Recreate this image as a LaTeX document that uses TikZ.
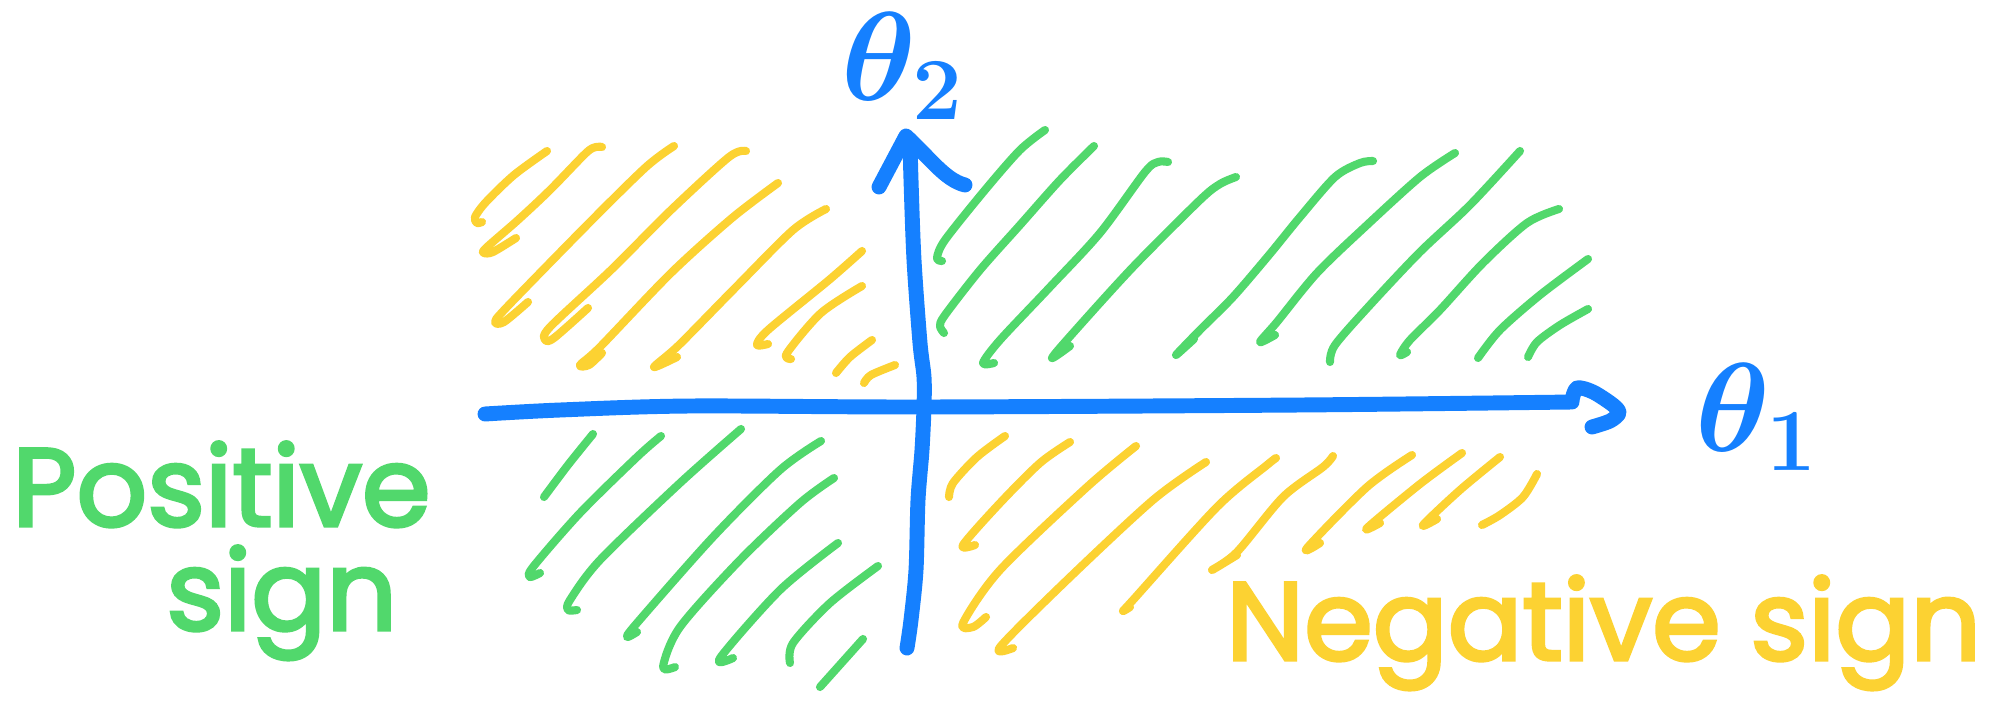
\documentclass[tikz,border=0pt]{standalone}
\usepackage{fix-cm}
\usepackage{fontspec}
\setmainfont{Poppins}
\newfontfamily\handfont{Poppins}[FakeBold=3]
\usepackage{tikz}
\definecolor{axisblue}{HTML}{1580FF}
\definecolor{posgreen}{HTML}{51D86C}
\definecolor{negyellow}{HTML}{FCD232}

\begin{document}
\begin{tikzpicture}[x=0.2mm, y=-0.2mm,
    hatchp/.style={draw=posgreen, line width=4.6pt, line cap=round, line join=round},
    hatchn/.style={draw=negyellow, line width=4.6pt, line cap=round, line join=round},
    axis/.style={draw=axisblue, line width=8.5pt, line cap=round, line join=round},
    lbl/.style={text=#1, inner sep=0pt, font=\fontsize{63}{70}\selectfont\handfont},
    axlbl/.style={text=axisblue, inner sep=0pt, font=\fontsize{72}{80}\selectfont\boldmath}
  ]
    \fill[white] (0,0) rectangle (1996,727);
    \useasboundingbox (0,0) rectangle (1996,727);

    \draw[hatchn] plot[smooth] coordinates {(547,151) (514,175) (486,202) (475,217) (477,223) (482,222)};
    \draw[hatchn] plot[smooth] coordinates {(602,147) (596,147) (586,153) (550,190) (518,220) (486,248) (484,253) (493,252) (516,238)};
    \draw[hatchn] plot[smooth] coordinates {(674,146) (646,167) (589,223) (507,307) (495,322) (504,322) (528,302)};
    \draw[hatchn] plot[smooth] coordinates {(746,151) (729,157) (671,210) (611,270) (550,327) (545,340) (554,338) (588,308)};
    \draw[hatchn] plot[smooth] coordinates {(778,183) (732,218) (671,273) (600,347) (580,365) (589,365) (602,353)};
    \draw[hatchn] plot[smooth] coordinates {(826,209) (793,230) (736,287) (679,345) (654,367) (677,357)};
    \draw[hatchn] plot[smooth] coordinates {(862,251) (829,280) (768,330) (757,345) (768,344)};
    \draw[hatchn] plot[smooth] coordinates {(862,286) (821,313) (787,353) (791,359)};
    \draw[hatchn] plot[smooth] coordinates {(872,340) (850,357) (836,373)};
    \draw[hatchn] plot[smooth] coordinates {(895,365) (871,375) (864,383)};

    \draw[hatchp] plot[smooth] coordinates {(1045,130) (1020,150) (985,190) (945,240) (937,258) (942,261)};
    \draw[hatchp] plot[smooth] coordinates {(1094,146) (1060,180) (1020,225) (980,270) (945,315) (940,326) (944,333)};
    \draw[hatchp] plot[smooth] coordinates {(1168,162) (1158,162) (1145,172) (1100,233) (1050,287) (1000,340) (983,363) (994,363)};
    \draw[hatchp] plot[smooth] coordinates {(1236,177) (1220,184) (1200,200) (1133,267) (1073,333) (1052,358) (1070,346)};
    \draw[hatchp] plot[smooth] coordinates {(1373,161) (1360,163) (1335,177) (1300,217) (1269,255) (1233,297) (1200,330) (1176,355) (1194,339)};
    \draw[hatchp] plot[smooth] coordinates {(1455,153) (1420,177) (1367,225) (1317,273) (1277,322) (1260,342) (1275,335)};
    \draw[hatchp] plot[smooth] coordinates {(1520,151) (1470,205) (1420,252) (1370,305) (1335,345) (1330,362)};
    \draw[hatchp] plot[smooth] coordinates {(1559,209) (1527,223) (1483,263) (1440,310) (1410,340) (1400,355) (1407,352)};
    \draw[hatchp] plot[smooth] coordinates {(1588,259) (1540,295) (1500,330) (1478,358)};
    \draw[hatchp] plot[smooth] coordinates {(1588,309) (1560,325) (1537,342) (1528,357)};

    \draw[hatchp] plot[smooth] coordinates {(593,434) (568,465) (544,497)};
    \draw[hatchp] plot[smooth] coordinates {(661,436) (637,457) (580,513) (533,567) (530,577) (540,573)};
    \draw[hatchp] plot[smooth] coordinates {(741,429) (680,483) (600,560) (570,600) (568,610) (577,610)};
    \draw[hatchp] plot[smooth] coordinates {(821,441) (780,470) (713,537) (637,623) (627,637) (637,632)};
    \draw[hatchp] plot[smooth] coordinates {(834,478) (800,503) (740,560) (680,627) (663,667) (675,667)};
    \draw[hatchp] plot[smooth] coordinates {(838,543) (780,590) (720,658) (733,658)};
    \draw[hatchp] plot[smooth] coordinates {(878,566) (830,603) (793,643) (790,663)};
    \draw[hatchp] plot[smooth] coordinates {(863,639) (820,687)};

    \draw[hatchn] plot[smooth] coordinates {(1005,436) (977,457) (953,483) (949,497)};
    \draw[hatchn] plot[smooth] coordinates {(1070,442) (1040,463) (1000,503) (963,545) (975,545)};
    \draw[hatchn] plot[smooth] coordinates {(1136,446) (1087,487) (1000,570) (963,623) (973,627) (986,617)};
    \draw[hatchn] plot[smooth] coordinates {(1206,462) (1153,500) (1067,580) (1000,647) (1013,648)};
    \draw[hatchn] plot[smooth] coordinates {(1276,458) (1267,465) (1217,507) (1133,600) (1123,611) (1130,607)};
    \draw[hatchn] plot[smooth] coordinates {(1333,456) (1323,467) (1283,497) (1237,552) (1212,570) (1237,555)};
    \draw[hatchn] plot[smooth] coordinates {(1412,455) (1367,487) (1307,548) (1320,543)};
    \draw[hatchn] plot[smooth] coordinates {(1462,453) (1420,484) (1367,528) (1380,523)};
    \draw[hatchn] plot[smooth] coordinates {(1500,457) (1460,490) (1423,525) (1437,519)};
    \draw[hatchn] plot[smooth] coordinates {(1537,474) (1523,497) (1500,515) (1482,525)};

    \draw[axis] plot[smooth] coordinates {(485,414) (560,410) (690,406) (924,407) (1300,405) (1572,402)};
    \draw[axis] plot[smooth] coordinates {(1572,400) (1577,388) (1593,392) (1613,405) (1619,413) (1610,421) (1592,427)};
    \draw[axis] plot[smooth] coordinates {(907,648) (911,620) (916,570) (918,500) (922,450) (924,407) (924,377) (920,343) (914,260) (911,180) (910,140)};
    \draw[axis] (879,187) -- (906,136) .. controls (930,158) and (945,180) .. (965,185);

    \node[axlbl] (th2) at (902,66)   {$\theta_2$};
    \node[axlbl] (th1) at (1756,417) {$\theta_1$};

    \node[lbl=posgreen, anchor=base west]  (pos)  at (12,526)   {Positive};
    \node[lbl=posgreen, anchor=base west]  (psgn) at (166,630)  {sign};
    \node[lbl=negyellow, anchor=base west] (neg)  at (1226,660) {Negative sign};
  \end{tikzpicture}
\end{document}
